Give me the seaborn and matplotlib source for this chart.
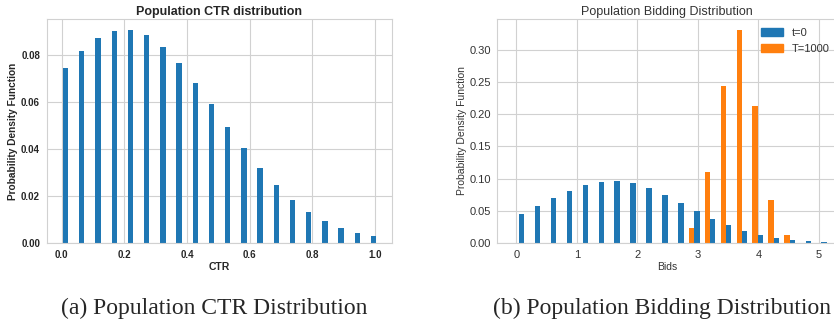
import matplotlib
matplotlib.use("Agg")
import matplotlib.pyplot as plt
from matplotlib.patches import Patch
import seaborn as sns
import numpy as np
import pandas as pd

# --- data ---
ctr_centers = [0.013, 0.064, 0.116, 0.168, 0.220, 0.271, 0.323, 0.375, 0.426, 0.478,
               0.530, 0.582, 0.633, 0.685, 0.737, 0.788, 0.840, 0.892, 0.943, 0.995]
ctr_pdf = [0.0746, 0.0818, 0.0874, 0.0904, 0.0908, 0.0888, 0.0836, 0.0769, 0.0682, 0.0592,
           0.0494, 0.0406, 0.0319, 0.0246, 0.0182, 0.0131, 0.0094, 0.0063, 0.0041, 0.0028]

bid_bins = [0.000, 0.263, 0.526, 0.789, 1.053, 1.316, 1.579, 1.842, 2.105, 2.368,
            2.632, 2.895, 3.158, 3.421, 3.684, 3.947, 4.211, 4.474, 4.737, 5.000]
bid_pdf_t0 = [0.0450, 0.0576, 0.0695, 0.0804, 0.0898, 0.0944, 0.0960, 0.0934, 0.0851, 0.0742,
              0.0623, 0.0498, 0.0368, 0.0275, 0.0187, 0.0119, 0.0073, 0.0042, 0.0026, 0.0010]
bid_pdf_T1000 = [0.0, 0.0, 0.0, 0.0, 0.0, 0.0, 0.0, 0.0, 0.0, 0.0,
                 0.0, 0.0228, 0.1100, 0.2440, 0.3316, 0.2128, 0.0664, 0.0119, 0.0005, 0.0]
series_labels = ["t=0", "T=1000"]

BLUE = "#1f77b4"
ORANGE = "#ff7f0e"


def edges_around(centers, width):
    c = np.asarray(centers, dtype=float)
    return list(np.append(c - width / 2, c[-1] + width / 2))


def hist_bars(ax, centers, values, binw, barw, color):
    df = pd.DataFrame({"x": centers, "w": values})
    sns.histplot(data=df, x="x", weights="w", bins=edges_around(centers, binw),
                 shrink=barw / binw, color=color, alpha=1, linewidth=0, ax=ax)


sns.set_style("whitegrid", {"axes.edgecolor": "0.82", "grid.color": "0.82"})
plt.rcParams["font.family"] = ["Liberation Sans", "DejaVu Sans"]

fig = plt.figure(figsize=(8.34, 3.23), dpi=100)
W, H = 834, 323
ax1 = fig.add_axes([47 / W, (H - 243) / H, 345 / W, 224 / H])
ax2 = fig.add_axes([497 / W, (H - 243) / H, 340 / W, 224 / H])

# (a) CTR distribution
hist_bars(ax1, ctr_centers, ctr_pdf, 0.0517, 0.017, BLUE)
ax1.set_xlim(-0.0466, 1.054)
ax1.set_ylim(0, 0.0955)
ax1.set_xticks([0.0, 0.2, 0.4, 0.6, 0.8, 1.0])
ax1.set_yticks([0.0, 0.02, 0.04, 0.06, 0.08])
ax1.xaxis.set_major_formatter(matplotlib.ticker.FormatStrFormatter("%.1f"))
ax1.yaxis.set_major_formatter(matplotlib.ticker.FormatStrFormatter("%.2f"))
ax1.tick_params(labelsize=7, pad=1.5, colors="#262626")
for t in ax1.get_xticklabels() + ax1.get_yticklabels():
    t.set_fontweight("bold")
ax1.set_title("Population CTR distribution", fontsize=9, fontweight="bold", pad=3)
ax1.set_xlabel("CTR", fontsize=7.5, fontweight="bold", labelpad=1.5)
ax1.set_ylabel("Probability Density Function", fontsize=7.3, fontweight="bold", labelpad=2.5)

# (b) bidding distribution
bar_w = 0.09
hist_bars(ax2, bid_bins, bid_pdf_T1000, 0.2632, bar_w, ORANGE)
hist_bars(ax2, [b + 0.088 for b in bid_bins], bid_pdf_t0, 0.2632, bar_w, BLUE)
ax2.set_xlim(-0.32, 5.3)
ax2.set_ylim(0, 0.348)
ax2.set_xticks([0, 1, 2, 3, 4, 5])
ax2.set_yticks([0.0, 0.05, 0.10, 0.15, 0.20, 0.25, 0.30])
ax2.yaxis.set_major_formatter(matplotlib.ticker.FormatStrFormatter("%.2f"))
ax2.tick_params(axis="x", labelsize=8, pad=1.5, colors="#333333")
ax2.tick_params(axis="y", labelsize=8, pad=0.5, colors="#333333")
ax2.set_title("Population Bidding Distribution", fontsize=9, pad=3, color="#333333")
ax2.set_xlabel("Bids", fontsize=7.5, labelpad=1.5, color="#333333")
ax2.set_ylabel("Probability Density Function", fontsize=7.5, labelpad=2, color="#333333")
handles = [Patch(color=BLUE), Patch(color=ORANGE)]
ax2.legend(handles, series_labels, loc="upper right", frameon=False, fontsize=8,
           handlelength=2.0, handleheight=0.8, labelcolor="#333333",
           bbox_to_anchor=(1.008, 1.005))

# captions
fig.text(214 / W, 9 / H, "(a) Population CTR Distribution", ha="center", va="baseline",
         family="Liberation Serif", fontsize=17)
fig.text(662 / W, 9 / H, "(b) Population Bidding Distribution", ha="center", va="baseline",
         family="Liberation Serif", fontsize=17)

fig.savefig("out.png", dpi=100)
